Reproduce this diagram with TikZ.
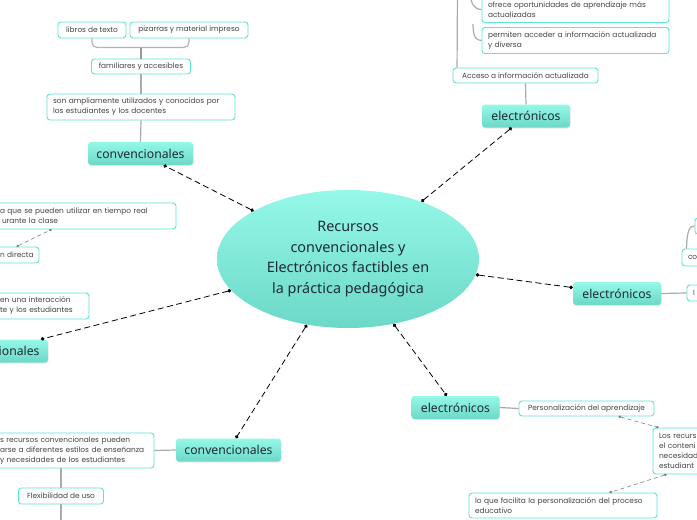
\documentclass[tikz,border=0pt]{standalone}
\usepackage{fontspec}
\setmainfont{Noto Sans}
\newfontfamily\smallf{Poppins}
\usetikzlibrary{arrows.meta,shadows,shapes.geometric,calc}
\definecolor{tealb}{HTML}{5CE5D0}
\definecolor{tealtop}{HTML}{95F8E8}
\definecolor{tealbot}{HTML}{6CD8C7}
\definecolor{txt}{HTML}{1E2B36}
\definecolor{stxt}{HTML}{444444}
\definecolor{lgray}{HTML}{ABABAB}
\tikzset{
 head/.style={rounded corners=3pt, top color=tealtop, bottom color=tealbot, draw=none,
   minimum height=23pt, inner sep=0pt, font=\fontsize{12.2}{14}\selectfont, text=txt,
   drop shadow={opacity=0.15, shadow xshift=0.6pt, shadow yshift=-1.2pt}},
 sub/.style={rounded corners=3pt, draw=tealb, line width=0.9pt, fill=white, inner xsep=6pt,
   inner ysep=0pt, font=\smallf\fontsize{7.4}{10}\selectfont, text=stxt},
 gline/.style={draw=lgray, line width=1.2pt},
 mainlink/.style={draw=black, line width=0.8pt, dash pattern=on 6pt off 3.5pt,
   {Circle[length=3.5pt]}-{Circle[length=3.5pt]}},
 sublink/.style={draw=gray, line width=0.6pt, dash pattern=on 4pt off 3pt,
   {Circle[length=2.6pt]}-{Circle[length=2.6pt]}},
}
\begin{document}
\begin{tikzpicture}[x=1pt,y=-1pt]
\clip (0,0) rectangle (697,520);
\fill[white] (0,0) rectangle (697,520);

% central
\node[ellipse, minimum width=262pt, minimum height=138pt, inner sep=0pt,
  top color=tealtop, bottom color=tealbot, align=center, text=txt,
  font=\fontsize{14.4}{20.7}\selectfont] (c) at (348,259)
  {Recursos\\convencionales y\\Electrónicos factibles en\\la práctica pedagógica};

% top-left branch
\node[sub, minimum width=68pt, minimum height=16pt] (lb) at (92,30) {libros de texto};
\node[sub, minimum width=118pt, minimum height=16pt] (pz) at (189,30) {pizarras y material impreso};
\node[sub, minimum width=99pt, minimum height=15pt] (fa) at (141,66.5) {familiares y accesibles};
\node[sub, text width=176pt, align=left, minimum height=26pt] (sa) at (141,107)
  {\mbox{son ampliamente utilizados y conocidos por}\\\mbox{los estudiantes y los docentes}};
\node[head, minimum width=105pt] (h1) at (140.5,153.5) {convencionales};

% top-right branch
\node[sub, minimum width=145pt, minimum height=15pt] (ac) at (525.5,75.5) {Acceso a información actualizada};
\node[sub, text width=175pt, align=left, minimum height=26pt] (of) at (575.5,9.5)
  {\mbox{ofrece oportunidades de aprendizaje más}\\\mbox{actualizadas}};
\node[sub, text width=175pt, align=left, minimum height=26pt] (pw) at (575.5,40.5)
  {\mbox{permiten acceder a información actualizada}\\\mbox{y diversa}};
\node[head, minimum width=88pt] (h2) at (526,116) {electrónicos};

% right branch
\node[head, minimum width=88pt] (h3) at (617,293.5) {electrónicos};
\node[sub, text width=60pt, align=left, minimum height=16pt] (ib) at (723,293) {I};
\node[sub, text width=51pt, align=left, minimum height=17pt] (cb) at (713.5,257.5) {co};
\node[sub, text width=53pt, align=left, minimum height=16pt] (ub) at (727.5,226) {};

% bottom-right branch
\node[head, minimum width=88pt] (h4) at (455.5,407.5) {electrónicos};
\node[sub, minimum width=135pt, minimum height=15pt] (pa) at (586.5,408.5) {Personalización del aprendizaje};
\node[sub, text width=95pt, align=left, minimum height=46pt] (lr) at (706.5,451)
  {\mbox{Los recurs}\\\mbox{el conteni}\\\mbox{necesidad}\\\mbox{estudiant}};
\node[sub, text width=176pt, align=left, minimum height=25pt] (lq) at (563,505.5)
  {\mbox{lo que facilita la personalización del proceso}\\\mbox{educativo}};

% bottom branch
\node[head, minimum width=105pt] (h5) at (228.5,450) {convencionales};
\node[sub, text width=148pt, align=left, minimum height=35pt] (bc) at (74,450.5)
  {\mbox{s recursos convencionales pueden}\\\mbox{arse a diferentes estilos de enseñanza}\\\mbox{y necesidades de los estudiantes}};
\node[sub, minimum width=85pt, minimum height=16pt] (fx) at (61,496) {Flexibilidad de uso};

% left branch
\node[head, minimum width=105pt] (h6) at (-4.5,351) {convencionales};
\node[sub, text width=170pt, align=left, minimum height=26pt] (tr) at (85,216)
  {\mbox{a que se pueden utilizar en tiempo real}\\\mbox{\hspace{2pt}urante la clase}};
\node[sub, text width=33pt, align=left, minimum height=16pt] (nd) at (16.5,255) {\mbox{n directa}};
\node[sub, text width=83pt, align=left, minimum height=26pt] (ei) at (41.5,306)
  {\mbox{en una interacción}\\\mbox{te y los estudiantes}};

% grey tree lines
\draw[gline, draw=lgray!90, rounded corners=5pt] (lb.south) -- ++(0,9) -| (pz.south);
\draw[gline, draw=gray!80] (fa.north) -- ++(0,-11);
\draw[gline] (fa.south) -- (sa.north);
\draw[gline] (sa.south) -- (h1.north);
\draw[gline] (h2.north) -- (ac.south);
\coordinate (t1) at (457.5,-10);
\draw[gline] ([xshift=4.5pt]ac.north west) -- (t1);
\coordinate (o1) at (470,-8);
\draw[gline] (o1) .. controls (471,4) and (474,9.5) .. (of.west);
\coordinate (o2) at (473,24);
\draw[gline] (o2) .. controls (473,37) and (476,40.5) .. (pw.west);
\draw[gline] (h3.east) -- (ib.west);
\draw[gline] ([xshift=5pt]cb.north west) .. controls (687,229) and (690,226) .. (ub.west);
\draw[gline] (h4.east) -- (pa.west);
\draw[gline] (bc.east) -- (h5.west);
\draw[gline] (fx.north |- bc.south) -- (fx.north);
\coordinate (fe) at (61,525);
\draw[gline] (fx.south) -- (fe);

% main dashed links
\draw[mainlink] (c.153) -- (h1);
\draw[mainlink] (c.38.6) -- (h2);
\draw[mainlink] (c.-7.8) -- (h3);
\draw[mainlink] (c.305.8) -- (h4);
\draw[mainlink] (c.238) -- (h5);
\draw[mainlink] (c.195.3) -- (h6);

% thin dashed links
\draw[sublink] (nd.north) -- ([xshift=58pt]tr.south west);
\draw[sublink] ([xshift=100pt]pa.south west) -- ([xshift=6pt]lr.north west);
\draw[sublink] ([xshift=14pt]lr.south west) -- ([xshift=141pt]lq.north west);
\end{tikzpicture}
\end{document}
